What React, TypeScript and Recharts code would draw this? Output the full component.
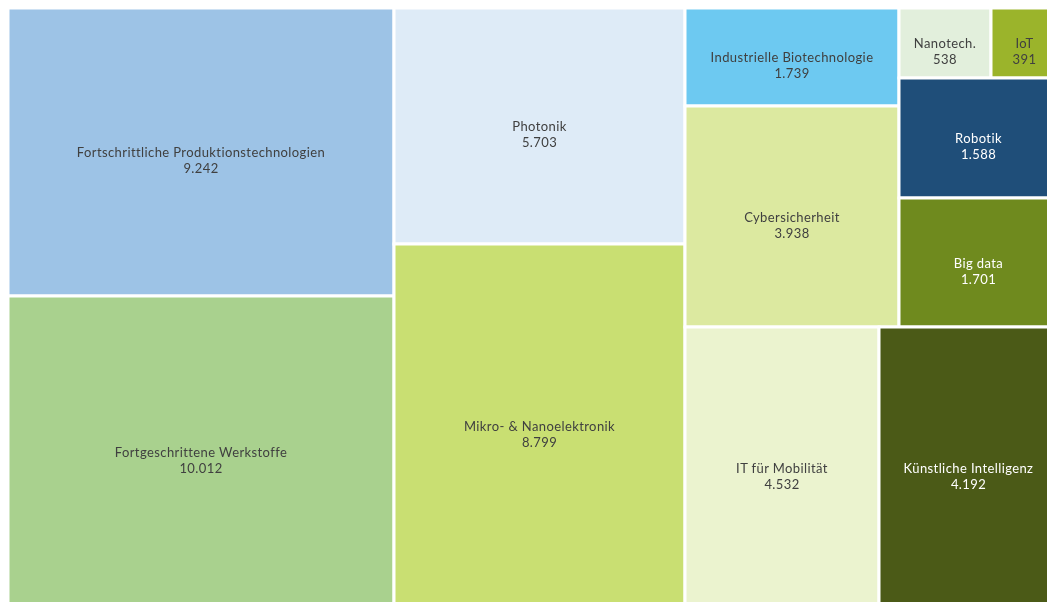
import { Treemap } from "recharts"

const names = [
  "Fortschrittliche Produktionstechnologien",
  "Fortgeschrittene Werkstoffe",
  "Photonik",
  "Mikro- & Nanoelektronik",
  "Industrielle Biotechnologie",
  "Cybersicherheit",
  "Nanotech.",
  "IoT",
  "Robotik",
  "Big data",
  "IT für Mobilität",
  "Künstliche Intelligenz",
]

const values = [9242, 10012, 5703, 8799, 1739, 3938, 538, 391, 1588, 1701, 4532, 4192]

const colors = [
  "#9dc3e6",
  "#a9d18e",
  "#deebf7",
  "#c9df72",
  "#6dc9f1",
  "#dce9a0",
  "#e2efdc",
  "#9bb42b",
  "#1f4e79",
  "#6f8a1e",
  "#ebf3cf",
  "#4b5a17",
]

const lightLabel = [false, false, false, false, false, false, false, false, true, true, false, true]

// how the cells are grouped (indices into the arrays above)
const groups = [
  [0, 1],
  [2, 3],
  [
    [
      [4, 5],
      [
        [6, 7],
        [8, 9],
      ],
    ],
    [10, 11],
  ],
]

const fmt = (v: number) => v.toLocaleString("de-DE")

function build(g: any): any {
  if (typeof g === "number") {
    return { name: names[g], value: values[g], idx: g }
  }
  return { name: "", children: g.map(build) }
}

const data = groups.map(build)

function Cell(props: any) {
  const { x, y, width, height, idx, children, name, value } = props
  if (children && children.length) return <g />
  if (idx === undefined) return <g />
  const textFill = lightLabel[idx] ? "#ffffff" : "#404040"
  const cx = x + width / 2
  const cy = y + height / 2
  const textProps = {
    textAnchor: "middle" as const,
    fill: textFill,
    fontSize: 13,
    letterSpacing: 0.4,
    fontFamily: "Lato, sans-serif",
  }
  return (
    <g>
      <rect x={x} y={y} width={width} height={height} fill={colors[idx]} stroke="#ffffff" strokeWidth={3} />
      <text x={cx} y={cy + 5} {...textProps}>
        {name}
      </text>
      <text x={cx} y={cy + 21} {...textProps}>
        {fmt(value)}
      </text>
    </g>
  )
}

export default function App() {
  return (
    <div style={{ position: "fixed", left: 8, top: 8, width: 1039, height: 594, overflow: "hidden" }}>
      <Treemap
        width={1050}
        height={600}
        data={data}
        dataKey="value"
        aspectRatio={1}
        isAnimationActive={false}
        content={<Cell />}
      />
    </div>
  )
}
